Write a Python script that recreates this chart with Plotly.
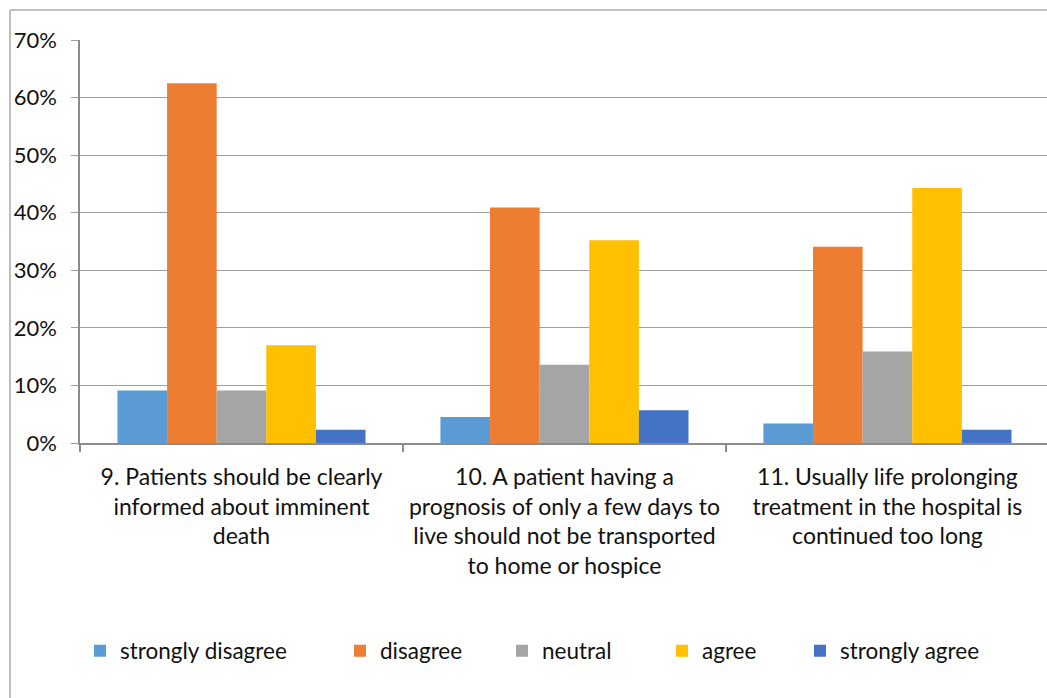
import plotly.graph_objects as go

# Survey statements (x categories) with line breaks as shown under the axis
statements = [
    "9. Patients should be clearly<br>informed about imminent<br>death",
    "10. A patient having a<br>prognosis of only a few days to<br>live should not be transported<br>to home or hospice",
    "11. Usually life prolonging<br>treatment in the hospital is<br>continued too long",
]

# Share of respondents (%) per answer option
strongly_disagree = [9.1, 4.5, 3.4]
disagree = [62.5, 40.9, 34.1]
neutral = [9.1, 13.6, 15.9]
agree = [17.0, 35.2, 44.3]
strongly_agree = [2.3, 5.7, 2.3]

y_ticks = [0, 10, 20, 30, 40, 50, 60, 70]
y_tick_labels = ["0%", "10%", "20%", "30%", "40%", "50%", "60%", "70%"]

series = [
    ("strongly disagree", strongly_disagree, "#5B9BD5"),
    ("disagree", disagree, "#ED7D31"),
    ("neutral", neutral, "#A5A5A5"),
    ("agree", agree, "#FFC000"),
    ("strongly agree", strongly_agree, "#4472C4"),
]

W, H = 1047, 698
PL, PR, PT, PB = 80, 0, 40, 255
plot_w = W - PL - PR
plot_h = H - PT - PB

FONT = "Lato"
TXT = "#111111"

fig = go.Figure()

# one legend per series so each entry sits where it belongs on the row
legend_left_px = [80, 340, 502, 662, 800]
legend_names = ["legend2", "legend3", "legend4", "legend5", "legend6"]

for (name, vals, color), lg in zip(series, legend_names):
    fig.add_trace(go.Bar(
        name=name, x=statements, y=vals,
        marker=dict(color=color, line=dict(width=0)),
        legend=lg,
    ))

legend_y = (PT + plot_h - 651) / plot_h
layout_legends = {}
for lg, lx in zip(legend_names, legend_left_px):
    layout_legends[lg] = dict(
        x=(lx - PL) / plot_w, y=legend_y, xanchor="left", yanchor="middle",
        orientation="h", bgcolor="rgba(0,0,0,0)", borderwidth=0,
        font=dict(family=FONT, size=22.5, color=TXT),
    )

# outer chart border (left and top edges visible in the frame)
bx = (10 - PL) / plot_w
by = 1 + (PT - 10) / plot_h
fig.add_shape(type="line", xref="paper", yref="paper", x0=bx, x1=bx, y0=by, y1=-(H + 20 - PT - plot_h) / plot_h,
              line=dict(color="#BFBFBF", width=2), layer="below")
fig.add_shape(type="line", xref="paper", yref="paper", x0=bx, x1=1.05, y0=by, y1=by,
              line=dict(color="#BFBFBF", width=2), layer="below")

fig.update_layout(
    width=W, height=H,
    margin=dict(l=PL, r=PR, t=PT, b=PB, pad=0),
    paper_bgcolor="white", plot_bgcolor="white",
    barmode="group", bargap=0.232, bargroupgap=0,
    font=dict(family=FONT, size=21, color=TXT),
    xaxis=dict(
        type="category", range=[-0.5, 2.494],
        showline=True, linecolor="#8C8C8C", linewidth=2,
        ticks="outside", tickson="boundaries", ticklen=7, tickcolor="#8C8C8C", tickwidth=1.5,
        showgrid=False, tickfont=dict(family=FONT, size=23, color=TXT),
        ticklabelstandoff=12,
    ),
    yaxis=dict(
        range=[0, 70], tickvals=y_ticks, ticktext=y_tick_labels,
        showgrid=True, gridcolor="#A0A0A0", gridwidth=1.3,
        showline=True, linecolor="#8C8C8C", linewidth=1.5,
        ticks="outside", ticklen=7, tickcolor="#A0A0A0", tickwidth=1.3,
        zeroline=False, tickfont=dict(family=FONT, size=22, color=TXT),
        ticklabelstandoff=10,
    ),
    **layout_legends,
)

fig.write_html("out.html")
